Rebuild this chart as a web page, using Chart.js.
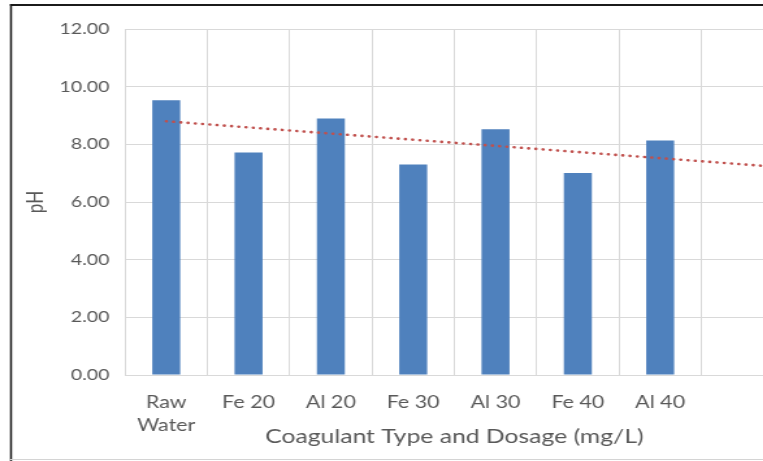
<!DOCTYPE html>
<html>
<head>
<meta charset="utf-8">
<script src="https://cdn.jsdelivr.net/npm/chart.js@4/dist/chart.umd.min.js"></script>
<style>
  html, body { margin: 0; padding: 0; background: #fff; overflow: hidden; }
  body { width: 763px; height: 461px; position: relative; }
  /* chart is drawn narrow and stretched sideways */
  .wrap {
    position: absolute; left: 0; top: 0; width: 620px; height: 461px;
    transform: scaleX(1.3); transform-origin: 0 0;
  }
</style>
</head>
<body>
<div class="wrap"><canvas id="phChart" width="620" height="461"></canvas></div>
<script>
  const categories = [["Raw", "Water"], "Fe 20", "Al 20", "Fe 30", "Al 30", "Fe 40", "Al 40", ""];
  const phValues = [9.53, 7.72, 8.90, 7.30, 8.52, 7.01, 8.13, null];
  // linear trend line, start and end
  const trendX = [1, 8.5];
  const trendY = [8.80, 7.20];
  const yTicks = [0, 2, 4, 6, 8, 10, 12];

  const gray = "#595959";
  const gridColor = "#d9d9d9";
  const stretch = 1.3;

  // dark frame on top and left, light line at the bottom
  const framePlugin = {
    id: "frame",
    afterDraw: (chart) => {
      const c = chart.ctx;
      const left = 10 / stretch;
      c.save();
      c.fillStyle = "#1b1b1b";
      c.fillRect(left, 4, chart.width - left, 2);
      c.fillRect(left, 4, 2 / stretch, chart.height - 4);
      c.fillStyle = "#d4d4d4";
      c.fillRect(left, 459, chart.width - left, 1);
      c.restore();
    },
  };

  const ctx = document.getElementById("phChart").getContext("2d");

  new Chart(ctx, {
    type: "bar",
    plugins: [framePlugin],
    data: {
      labels: categories,
      datasets: [
        {
          type: "line",
          label: "Linear (pH)",
          data: trendX.map((x, i) => ({ x: x, y: trendY[i] })),
          xAxisID: "xTrend",
          borderColor: "#C0504D",
          borderWidth: 2.6,
          borderDash: [0.1, 5.5],
          borderCapStyle: "round",
          pointRadius: 0,
          fill: false,
          order: 0,
        },
        {
          type: "bar",
          label: "pH",
          data: phValues,
          xAxisID: "x",
          backgroundColor: "#4F81BD",
          grouped: false,
          barPercentage: 0.34,
          categoryPercentage: 1,
          order: 1,
        },
      ],
    },
    options: {
      responsive: false,
      animation: false,
      layout: { padding: { top: 29, right: 17.2, left: 0, bottom: 0 } },
      plugins: { legend: { display: false }, tooltip: { enabled: false } },
      scales: {
        x: {
          type: "category",
          offset: true,
          grid: { color: gridColor, offset: true, drawTicks: false },
          border: { color: gridColor },
          ticks: {
            color: gray,
            font: { family: "Lato", size: 16.5, lineHeight: 1.4 },
            padding: 16,
            maxRotation: 0,
            autoSkip: false,
          },
          title: {
            display: true,
            text: "Coagulant Type and Dosage (mg/L)",
            color: gray,
            font: { family: "Lato", size: 19 },
            padding: { top: 0, bottom: 13 },
          },
          afterFit: (scale) => { scale.height = 86; },
        },
        xTrend: {
          type: "linear",
          display: false,
          offset: false,
          bounds: "ticks",
          min: 0.5,
          max: 8.5,
        },
        y: {
          min: 0,
          max: 12,
          afterBuildTicks: (scale) => { scale.ticks = yTicks.map((v) => ({ value: v })); },
          grid: { color: gridColor, drawTicks: false },
          border: { display: false },
          ticks: {
            color: gray,
            font: { family: "Lato", size: 15 },
            padding: 12,
            callback: (v) => Number(v).toFixed(2),
          },
          title: {
            display: true,
            text: "pH",
            color: gray,
            font: { family: "Lato", size: 17 },
            padding: { top: 17, bottom: 0 },
          },
          afterFit: (scale) => { scale.width = 96.2; },
        },
      },
    },
  });
</script>
</body>
</html>
